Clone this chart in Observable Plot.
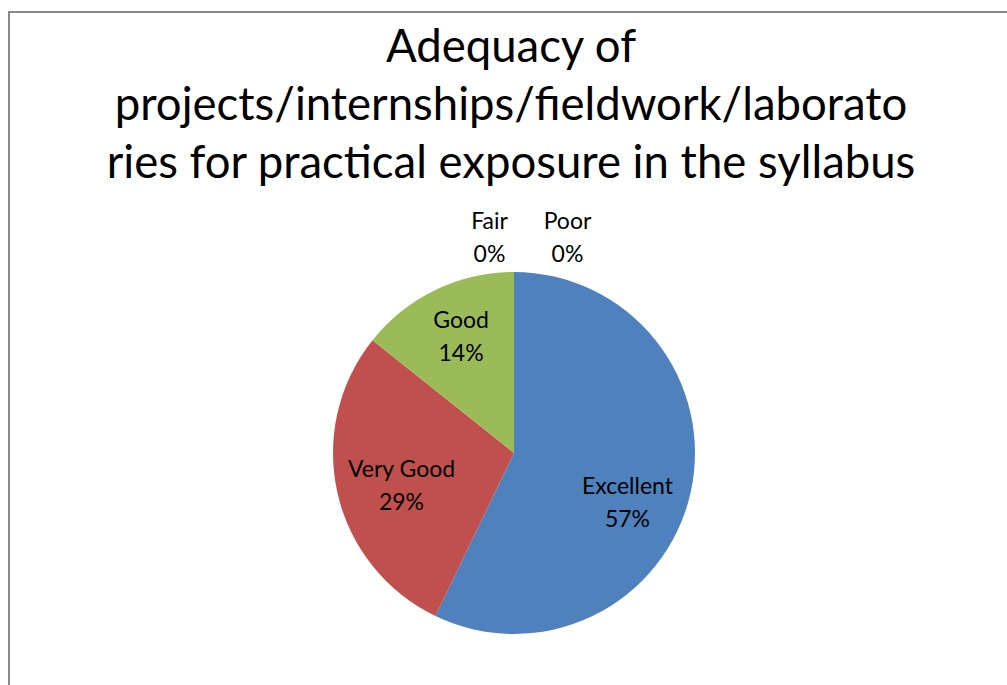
<!DOCTYPE html>
<html>
<head>
<meta charset="utf-8">
<script src="https://cdn.jsdelivr.net/npm/d3@7"></script>
<script src="https://cdn.jsdelivr.net/npm/@observablehq/plot@0.6"></script>
<style>
  html, body { margin: 0; padding: 0; width: 1007px; height: 685px; overflow: hidden; background: #fff; }
  #frame { position: absolute; left: 8px; top: 11px; width: 1100px; height: 700px; border: 2px solid #898989; box-sizing: border-box; }
  #title { position: absolute; left: 0; top: 16px; width: 1022px; text-align: center; font-family: Lato, "Open Sans", sans-serif; font-size: 45.5px; line-height: 58px; color: #000; }
  #chart { position: absolute; left: 0; top: 200px; }
</style>
</head>
<body>
<div id="frame"></div>
<div id="title"></div>
<div id="chart"></div>
<script>
const titleLines = ["Adequacy of", "projects/internships/fieldwork/laborato", "ries for practical exposure in the syllabus"];
const categories = ["Excellent", "Very Good", "Good", "Fair", "Poor"];
const values = [4, 2, 1, 0, 0];
const percentLabels = ["57%", "29%", "14%", "0%", "0%"];
const colors = ["#4F81BD", "#C0504D", "#9BBB59", "#8064A2", "#4BACC6"];

document.getElementById("title").innerHTML = titleLines.map(t => `<div>${t}</div>`).join("");

const rows = categories.map((c, i) => ({category: c, value: values[i], pct: percentLabels[i]}));
const arcs = d3.pie().sort(null).value(d => d.value)(rows);

// label placement nudges (pixels), mimicking the spreadsheet's best-fit labels
const labelNudge = {
  "Excellent": [-7, 19],
  "Very Good": [7, 2],
  "Good": [0, -9],
  "Fair": [-25, -5],
  "Poor": [53, -5]
};

// label anchor positions in data units (unit circle), derived from slice angles
const labelRows = arcs.map(a => {
  const mid = (a.startAngle + a.endAngle) / 2;
  const rr = a.data.value === 0 ? 1.18 : 0.68;
  return {
    category: a.data.category,
    text: a.data.category + "\n" + a.data.pct,
    x: rr * Math.sin(mid),
    y: rr * Math.cos(mid)
  };
});

const colorScale = Plot.scale({color: {type: "ordinal", domain: categories, range: colors}});

function pieSlices(index, scales) {
  const cx = scales.x(0), cy = scales.y(0);
  const r = Math.abs(scales.x(1) - scales.x(0));
  const g = d3.create("svg:g").attr("transform", `translate(${cx},${cy})`);
  const arcGen = d3.arc().innerRadius(0).outerRadius(r);
  g.selectAll("path")
    .data(arcs.filter(a => a.data.value > 0))
    .join("path")
    .attr("d", arcGen)
    .attr("fill", a => colorScale.apply(a.data.category));
  return g.node();
}

const fontFam = 'Lato, "Open Sans", sans-serif';
const plot = Plot.plot({
  width: 1007,
  height: 485,
  marginLeft: 333,
  marginRight: 312,
  marginTop: 72,
  marginBottom: 51,
  x: {domain: [-1, 1], axis: null},
  y: {domain: [-1, 1], axis: null},
  style: {fontFamily: fontFam, background: "transparent"},
  marks: [
    pieSlices,
    ...labelRows.map(d => Plot.text([d], {
      x: "x", y: "y", text: "text", fontSize: 23, fill: "#000", lineHeight: 1.43,
      dx: labelNudge[d.category][0], dy: labelNudge[d.category][1]
    }))
  ]
});
document.getElementById("chart").appendChild(plot);
</script>
</body>
</html>
